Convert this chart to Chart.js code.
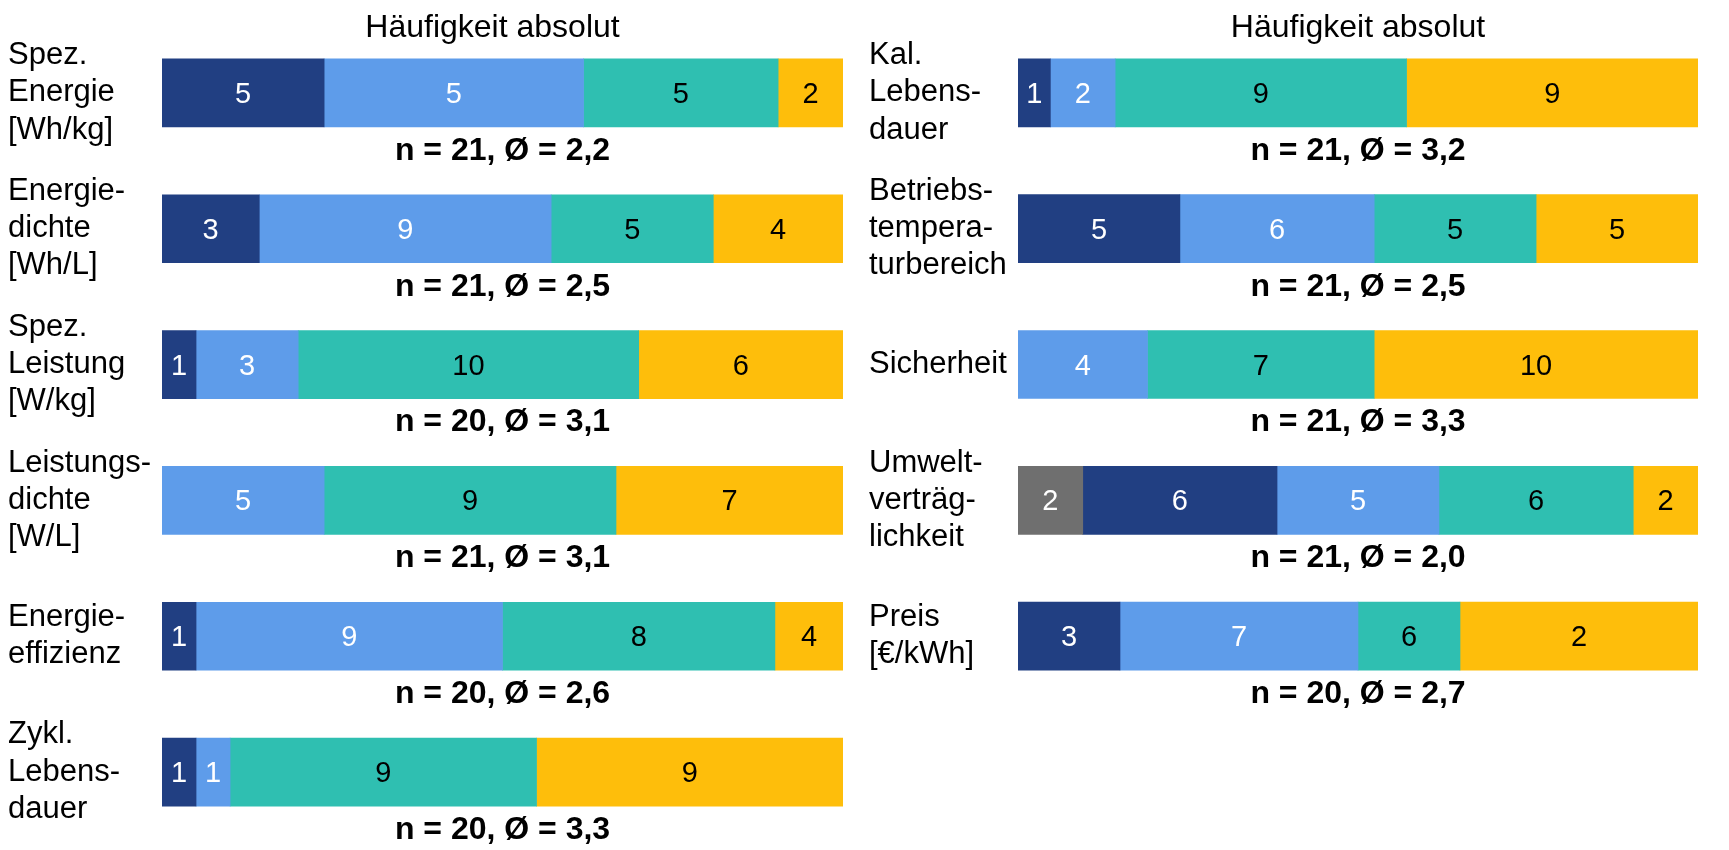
<!DOCTYPE html>
<html>
<head>
<meta charset="utf-8">
<script src="https://cdn.jsdelivr.net/npm/chart.js@4.4.1/dist/chart.umd.min.js"></script>
<style>
  html, body { margin: 0; padding: 0; background: #ffffff; }
  body { width: 1729px; height: 850px; position: relative; overflow: hidden; }
  #wrapL { position: absolute; left: 0; top: 0; width: 860px; height: 850px; }
  #wrapR { position: absolute; left: 860px; top: 0; width: 869px; height: 850px; }
</style>
</head>
<body>
<div id="wrapL"><canvas id="left"></canvas></div>
<div id="wrapR"><canvas id="right"></canvas></div>
<script>
// ---------- DATA ----------
const titleText = 'Häufigkeit absolut';
const levelNames = ['keine Angabe', '1', '2', '3', '4'];

// left panel
const leftCategories = [
  ['Spez.', 'Energie', '[Wh/kg]'],
  ['Energie-', 'dichte', '[Wh/L]'],
  ['Spez.', 'Leistung', '[W/kg]'],
  ['Leistungs-', 'dichte', '[W/L]'],
  ['Energie-', 'effizienz'],
  ['Zykl.', 'Lebens-', 'dauer']
];
const leftKA = [0, 0, 0, 0, 0, 0];
const leftL1 = [5, 3, 1, 0, 1, 1];
const leftL2 = [8, 9, 3, 5, 9, 1];
const leftL3 = [6, 5, 10, 9, 8, 9];
const leftL4 = [2, 4, 6, 7, 2, 9];
// labels printed inside the segments (as shown in the original)
const leftKAText = ['', '', '', '', '', ''];
const leftL1Text = ['5', '3', '1', '', '1', '1'];
const leftL2Text = ['5', '9', '3', '5', '9', '1'];
const leftL3Text = ['5', '5', '10', '9', '8', '9'];
const leftL4Text = ['2', '4', '6', '7', '4', '9'];
const leftN = [21, 21, 20, 21, 20, 20];
const leftAvg = ['2,2', '2,5', '3,1', '3,1', '2,6', '3,3'];

// right panel
const rightCategories = [
  ['Kal.', 'Lebens-', 'dauer'],
  ['Betriebs-', 'tempera-', 'turbereich'],
  'Sicherheit',
  ['Umwelt-', 'verträg-', 'lichkeit'],
  ['Preis', '[€/kWh]']
];
const rightKA = [0, 0, 0, 2, 0];
const rightL1 = [1, 5, 0, 6, 3];
const rightL2 = [2, 6, 4, 5, 7];
const rightL3 = [9, 5, 7, 6, 3];
const rightL4 = [9, 5, 10, 2, 7];
const rightKAText = ['', '', '', '2', ''];
const rightL1Text = ['1', '5', '', '6', '3'];
const rightL2Text = ['2', '6', '4', '5', '7'];
const rightL3Text = ['9', '5', '7', '6', '6'];
const rightL4Text = ['9', '5', '10', '2', '2'];
const rightN = [21, 21, 21, 21, 20];
const rightAvg = ['3,2', '2,5', '3,3', '2,0', '2,7'];

// ---------- STYLE ----------
const colors = ['#6f6f6f', '#213f82', '#5e9cea', '#2fbfb1', '#febe0b'];
const textColors = ['#ffffff', '#ffffff', '#ffffff', '#000000', '#000000'];
const FONT = "'Liberation Sans', Arial, Helvetica, sans-serif";

function buildDatasets(series) {
  const n = series[0].length;
  const totals = [];
  for (let i = 0; i < n; i++) {
    let s = 0; series.forEach(a => s += a[i]); totals.push(s);
  }
  return series.map((arr, k) => ({
    label: levelNames[k],
    data: arr.map((v, i) => v ? v / totals[i] * 100 : null),
    backgroundColor: colors[k],
    borderWidth: 0,
    barThickness: 68,
    stack: 's'
  }));
}

const overlay = {
  id: 'overlay',
  afterDatasetsDraw(chart, args, opts) {
    const ctx = chart.ctx;
    const ca = chart.chartArea;
    const cx = (ca.left + ca.right) / 2;
    ctx.save();
    ctx.textAlign = 'center';
    ctx.textBaseline = 'middle';
    // segment labels
    ctx.font = `29px ${FONT}`;
    chart.data.datasets.forEach((ds, di) => {
      const meta = chart.getDatasetMeta(di);
      meta.data.forEach((el, i) => {
        const txt = opts.shown[di][i];
        if (!txt) return;
        const p = el.getProps(['x', 'y', 'base'], true);
        ctx.fillStyle = textColors[di];
        ctx.fillText(txt, (p.x + p.base) / 2, p.y + 2);
      });
    });
    // n / mean labels
    ctx.fillStyle = '#000000';
    ctx.font = `bold 32px ${FONT}`;
    const ys = chart.scales.y;
    opts.nVals.forEach((n, i) => {
      const yc = ys.getPixelForValue(i);
      ctx.fillText(`n = ${n}, Ø = ${opts.avg[i]}`, cx, yc + 58);
    });
    // title
    ctx.font = `32px ${FONT}`;
    ctx.fillText(titleText, cx + (opts.titleDx || 0), 28);
    ctx.restore();
  }
};

function makeChart(id, cats, series, shown, nVals, avg, pad, axisWidth, titleDx) {
  return new Chart(document.getElementById(id), {
    type: 'bar',
    data: { labels: cats, datasets: buildDatasets(series) },
    plugins: [overlay],
    options: {
      indexAxis: 'y',
      responsive: true,
      maintainAspectRatio: false,
      animation: false,
      events: [],
      layout: { padding: pad },
      plugins: {
        legend: { display: false },
        tooltip: { enabled: false },
        title: { display: false },
        overlay: { shown, nVals, avg, titleDx }
      },
      scales: {
        x: { stacked: true, min: 0, max: 100, display: false },
        y: {
          stacked: true,
          offset: true,
          border: { display: false },
          grid: { display: false, drawTicks: false },
          afterFit(scale) {
            scale.width = axisWidth;
            scale.paddingTop = 0;
            scale.paddingBottom = 0;
          },
          ticks: {
            crossAlign: 'far',
            padding: 0,
            color: '#000000',
            autoSkip: false,
            font: { family: FONT, size: 31, lineHeight: 1.2 }
          }
        }
      }
    }
  });
}

makeChart('left', leftCategories,
  [leftKA, leftL1, leftL2, leftL3, leftL4],
  [leftKAText, leftL1Text, leftL2Text, leftL3Text, leftL4Text],
  leftN, leftAvg,
  { left: 8, right: 17, top: 25, bottom: 10 }, 154, -10);

makeChart('right', rightCategories,
  [rightKA, rightL1, rightL2, rightL3, rightL4],
  [rightKAText, rightL1Text, rightL2Text, rightL3Text, rightL4Text],
  rightN, rightAvg,
  { left: 9, right: 31, top: 25, bottom: 146 }, 149, 0);
</script>
</body>
</html>
